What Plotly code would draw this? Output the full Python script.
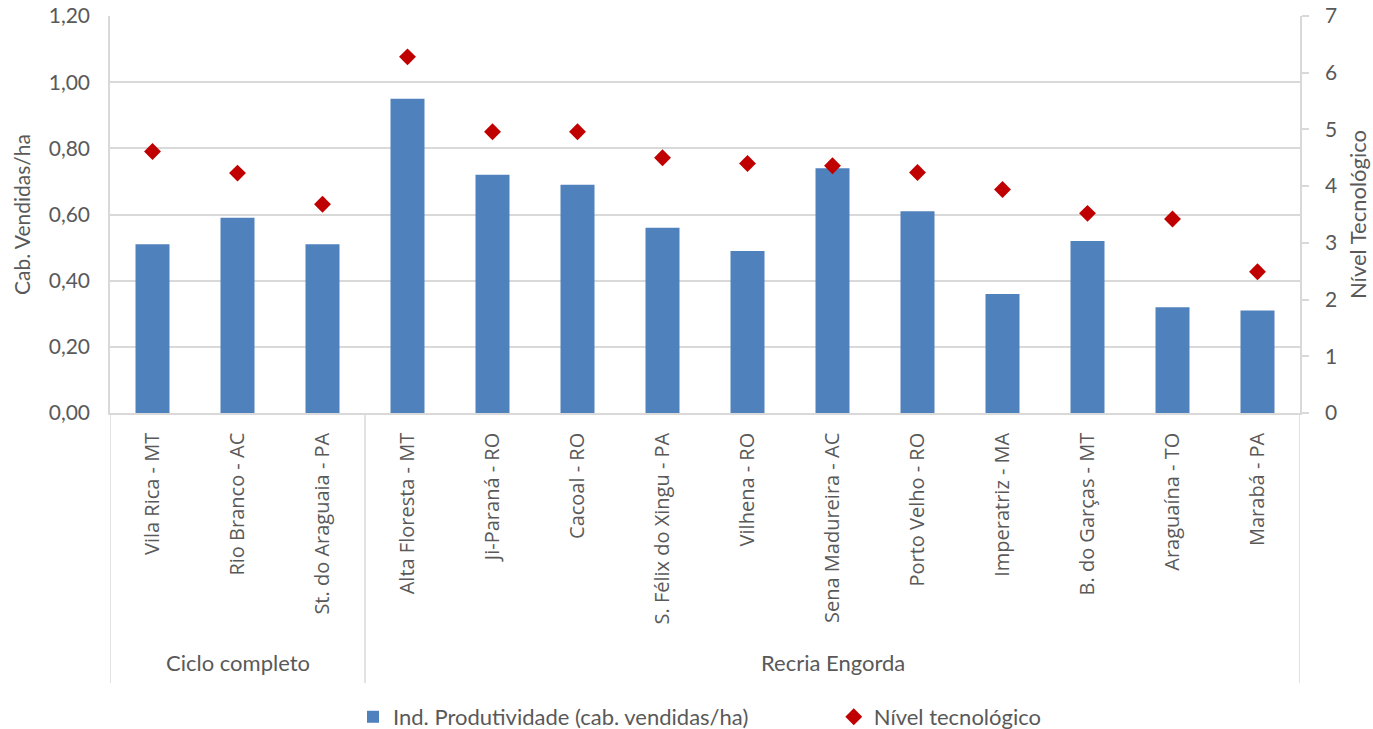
import plotly.graph_objects as go

# Municípios agrupados por sistema de produção
grupos = ["Ciclo completo", "Recria Engorda"]
municipios_ciclo = ["Vila Rica - MT", "Rio Branco - AC", "St. do Araguaia - PA"]
municipios_recria = [
    "Alta Floresta - MT", "Ji-Paraná - RO", "Cacoal - RO", "S. Félix do Xingu - PA",
    "Vilhena - RO", "Sena Madureira - AC", "Porto Velho - RO", "Imperatriz - MA",
    "B. do Garças - MT", "Araguaína - TO", "Marabá - PA",
]
municipios = municipios_ciclo + municipios_recria

# Índice de produtividade (cabeças vendidas por hectare)
produtividade = [0.51, 0.59, 0.51, 0.95, 0.72, 0.69, 0.56, 0.49, 0.74, 0.61, 0.36, 0.52, 0.32, 0.31]
# Nível tecnológico (escala 0-7)
nivel_tec = [4.61, 4.23, 3.68, 6.28, 4.96, 4.96, 4.50, 4.40, 4.36, 4.24, 3.94, 3.52, 3.42, 2.49]

cinza_txt = "#595959"
cinza_linha = "#d9d9d9"
fonte_cat = "Open Sans"
fonte = "Lato"

fig = go.Figure()
fig.add_trace(go.Bar(
    x=municipios, y=produtividade, name="Ind. Produtividade (cab. vendidas/ha)",
    marker=dict(color="#4f81bd", line=dict(width=0)), width=0.4, yaxis="y",
    legend="legend",
))
fig.add_trace(go.Scatter(
    x=municipios, y=nivel_tec, name="Nível tecnológico", mode="markers",
    marker=dict(symbol="diamond", size=13, color="#c00000"), yaxis="y2",
    legend="legend2",
))

# Linhas separadoras dos grupos e rótulos de grupo abaixo do eixo
tamanhos = [len(municipios_ciclo), len(municipios_recria)]
limites = [-0.5]
for n in tamanhos:
    limites.append(limites[-1] + n)

y_fim = -0.68
shapes = []
for b in limites:
    shapes.append(dict(type="line", xref="x", yref="paper", x0=b, x1=b, y0=0, y1=y_fim,
                       line=dict(color=cinza_linha, width=1.5)))
annotations = []
for g, a, b in zip(grupos, limites[:-1], limites[1:]):
    annotations.append(dict(x=(a + b) / 2, y=-0.628, xref="x", yref="paper", text=g,
                            showarrow=False, font=dict(family=fonte, size=22, color=cinza_txt),
                            xanchor="center", yanchor="middle"))

leg_font = dict(family=fonte, size=22, color=cinza_txt)
fig.update_layout(
    width=1373, height=729,
    margin=dict(l=110, r=73, t=16, b=316),
    paper_bgcolor="white", plot_bgcolor="white",
    separators=",.",
    showlegend=True,
    legend=dict(x=0.2042, xanchor="left", y=0.0165, yref="container",
                yanchor="middle", font=leg_font, itemwidth=30, bgcolor="rgba(0,0,0,0)"),
    legend2=dict(x=0.6082, xanchor="left", y=0.0165, yref="container",
                 yanchor="middle", font=leg_font, itemwidth=30, bgcolor="rgba(0,0,0,0)"),
    xaxis=dict(
        type="category", categoryorder="array", categoryarray=municipios,
        range=[-0.5, len(municipios) - 0.5], automargin=False,
        tickangle=-90, tickfont=dict(family=fonte_cat, size=20, color=cinza_txt),
        showline=True, linecolor=cinza_linha, linewidth=1.5, ticks="", showgrid=False,
        ticklabelstandoff=10,
    ),
    yaxis=dict(
        range=[0, 1.2], dtick=0.2, tickformat=".2f", automargin=False,
        tickfont=dict(family=fonte, size=21, color=cinza_txt), ticklabelstandoff=14,
        title=dict(text="Cab. Vendidas/ha", font=dict(family=fonte, size=21, color=cinza_txt),
                   standoff=12),
        showgrid=True, gridcolor=cinza_linha, gridwidth=1.5,
        showline=True, linecolor=cinza_linha, linewidth=1.5, zeroline=False, ticks="",
    ),
    yaxis2=dict(
        range=[0, 7], dtick=1, overlaying="y", side="right", automargin=False,
        tickfont=dict(family=fonte, size=21, color=cinza_txt), ticklabelstandoff=12,
        title=dict(text="Nível Tecnológico", font=dict(family=fonte, size=22, color=cinza_txt),
                   standoff=14),
        showgrid=False, showline=True, linecolor=cinza_linha, linewidth=1.5, zeroline=False,
        ticks="outside", ticklen=7, tickcolor=cinza_linha, tickwidth=1.5,
    ),
    shapes=shapes,
    annotations=annotations,
)

fig.write_html("out.html")
